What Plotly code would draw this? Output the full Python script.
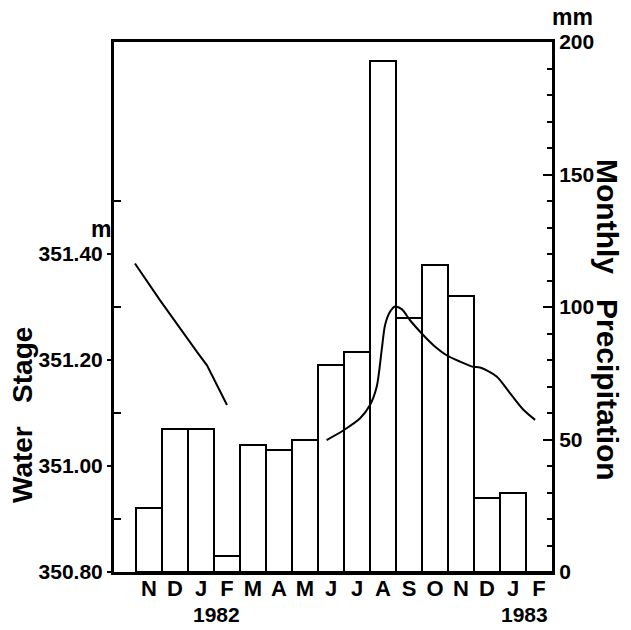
import plotly.graph_objects as go

months = ["N", "D", "J", "F", "M", "A", "M", "J", "J", "A", "S", "O", "N", "D", "J", "F"]
month_pos = list(range(len(months)))
precip_mm = [24, 54, 54, 6, 48, 46, 50, 78, 83, 193, 96, 116, 104, 28, 30, 0]

# water stage (m), x in month-index units (0 = Nov 1981 mid-month)
stage_x1 = [-0.54, 0.42, 1.88, 2.23, 3.0]
stage_y1 = [351.382, 351.313, 351.213, 351.19, 351.115]
stage_x2 = [6.83, 7.47, 8.12, 8.5, 8.76, 8.95, 9.08, 9.27, 9.46, 9.72, 10.04, 10.49,
            10.94, 11.45, 11.96, 12.47, 12.73, 13.37, 13.89, 14.4, 14.85]
stage_y2 = [351.049, 351.067, 351.09, 351.115, 351.15, 351.219, 351.266, 351.291, 351.301,
            351.296, 351.275, 351.25, 351.228, 351.209, 351.197, 351.187, 351.186, 351.169,
            351.137, 351.106, 351.087]

stage_ticks = [350.8, 351.0, 351.2, 351.4]
precip_ticks = [0, 50, 100, 150, 200]

FONT = "Liberation Sans"
L, R, T, B = 114, 552, 42, 572


def px(x):
    return (x - L) / (R - L)


def py(y):
    return (B - y) / (B - T)


fig = go.Figure()
fig.add_trace(go.Bar(
    x=month_pos, y=precip_mm, width=1.0, yaxis="y",
    marker=dict(color="white", line=dict(color="black", width=2)),
    showlegend=False,
))
fig.add_trace(go.Scatter(
    x=stage_x1, y=stage_y1, yaxis="y2", mode="lines",
    line=dict(color="black", width=2), showlegend=False,
))
fig.add_trace(go.Scatter(
    x=stage_x2, y=stage_y2, yaxis="y2", mode="lines",
    line=dict(color="black", width=2, shape="spline", smoothing=0.8), showlegend=False,
))

tickfont = dict(family=FONT, size=21, color="black", weight="bold")

fig.update_layout(
    width=631, height=630,
    margin=dict(l=L, r=631 - R, t=T, b=630 - B),
    paper_bgcolor="white", plot_bgcolor="white",
    bargap=0,
    xaxis=dict(
        range=[-1.346, 15.5], tickvals=month_pos, ticktext=months,
        showline=True, linewidth=3, linecolor="black", mirror=True,
        ticks="", showgrid=False, zeroline=False, ticklabelstandoff=-5,
        tickfont=dict(family=FONT, size=22, color="black", weight="bold"),
    ),
    yaxis=dict(
        side="right", range=[0, 200], tickvals=precip_ticks,
        showline=True, linewidth=3, linecolor="black",
        ticks="inside", ticklen=9, tickwidth=2, tickcolor="black",
        minor=dict(dtick=10, ticks="inside", ticklen=5, tickwidth=2, tickcolor="black"),
        showgrid=False, zeroline=False, tickfont=tickfont,
    ),
    yaxis2=dict(
        side="left", overlaying="y", range=[350.8, 351.8], tickvals=stage_ticks,
        tickformat=".2f",
        showline=True, linewidth=3, linecolor="black",
        ticks="outside", ticklen=4, tickwidth=2, tickcolor="black",
        minor=dict(tickvals=[350.9, 351.1, 351.3, 351.5], ticks="inside", ticklen=7,
                   tickwidth=2, tickcolor="black"),
        showgrid=False, zeroline=False, tickfont=tickfont,
    ),
)


def note(text, x, y, size, angle=0):
    fig.add_annotation(text=text, x=px(x), y=py(y), xref="paper", yref="paper",
                       xanchor="center", yanchor="middle", textangle=angle,
                       showarrow=False,
                       font=dict(family=FONT, size=size, color="black", weight="bold"))


gap = "\u00a0" * 3
note("Water" + gap + "Stage", 22, 415, 28, -90)
note("Monthly" + gap + "Precipitation", 608, 320, 30, 90)
note("m", 101, 229, 23)
note("mm", 572, 17, 23)
note("1982", 216, 614, 21)
note("1983", 524, 614, 21)

fig.write_html("out.html")
